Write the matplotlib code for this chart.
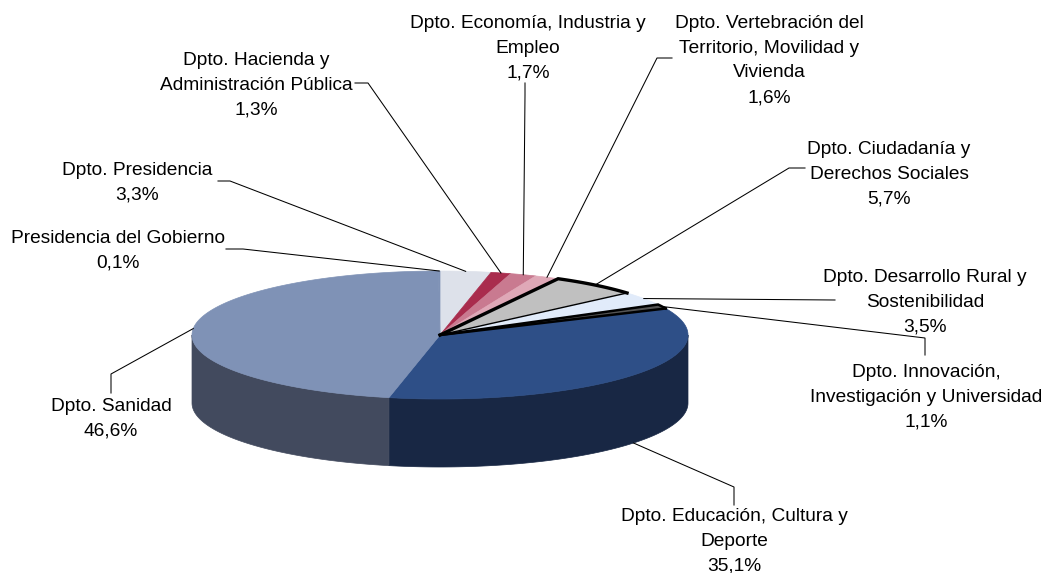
import numpy as np
import matplotlib
matplotlib.use('Agg')
import matplotlib.pyplot as plt

plt.rcParams['font.family'] = ['Liberation Sans', 'DejaVu Sans']

# slices clockwise from 12 o'clock
labels = ['Dpto. Presidencia', 'Dpto. Hacienda y\nAdministración Pública',
          'Dpto. Economía, Industria y\nEmpleo',
          'Dpto. Vertebración del\nTerritorio, Movilidad y\nVivienda',
          'Dpto. Ciudadanía y\nDerechos Sociales', 'Dpto. Desarrollo Rural y\nSostenibilidad',
          'Dpto. Innovación,\nInvestigación y Universidad', 'Dpto. Educación, Cultura y\nDeporte',
          'Dpto. Sanidad', 'Presidencia del Gobierno']
values = [3.3, 1.3, 1.7, 1.6, 5.7, 3.5, 1.1, 35.1, 46.6, 0.1]
value_text = ['3,3%', '1,3%', '1,7%', '1,6%', '5,7%', '3,5%', '1,1%', '35,1%', '46,6%', '0,1%']
top_colors = ['#DDE1EA', '#A92C4D', '#C97A90', '#DFA8B7', '#C0C0C0', '#E1EBFA', '#555555',
              '#2E4F87', '#7F92B6', '#7F92B6']
side_colors = ['#9A9DA4', '#761F36', '#8C5564', '#9C7580', '#868686', '#9DA4AF', '#3B3B3B',
               '#182744', '#424A5E', '#424A5E']
outer_widths = [0, 0, 0, 0, 2.4, 0, 1.8, 0, 0, 0]
closing_widths = [0, 0, 0, 0, 1.0, 0, 1.8, 0, 0, 0]

# label block centre x, first baseline y (px), elbow end and start of the leader
label_x = [137, 256, 528, 769, 889, 925, 926, 734, 111, 118]
label_y = [175, 65, 28, 28, 154, 282, 377, 521, 411, 243]
leader_start = [(218, 181), (355, 83), (525, 83), (672, 58), (805, 168),
                (835, 300), (925, 355), (734, 505), (111, 393), (226, 249)]
leader_elbow = [(230, 181), (368, 83), (525, 95), (657, 58), (789, 168),
                (835, 300), (925, 338), (734, 487), (111, 374), (243, 249)]

cx, cy = 440, 335
rx, ry = 248, 64
depth = 68
line_height = 24.7


def ellipse(a, b):
    t = np.radians(np.linspace(a, b, max(int(abs(b - a)) * 2, 2) + 1))
    return cx + rx * np.sin(t), cy - ry * np.cos(t)


fig = plt.figure(figsize=(10.44, 5.73), dpi=100)
ax = fig.add_axes([0, 0, 1, 1])
ax.set_xlim(0, 1044)
ax.set_ylim(573, 0)
ax.axis('off')

angles = np.concatenate([[0], np.cumsum(values)]) / sum(values) * 360

# side walls, only the front half of the ellipse shows
for i in range(len(values)):
    a, b = max(angles[i], 90), min(angles[i + 1], 270)
    if b <= a:
        continue
    x, y = ellipse(a, b)
    ax.fill(np.r_[x, x[::-1]], np.r_[y, y[::-1] + depth], color=side_colors[i], lw=0.5, zorder=1)

# top faces
for i in range(len(values)):
    x, y = ellipse(angles[i], angles[i + 1])
    ax.fill(np.r_[cx, x], np.r_[cy, y], color=top_colors[i], lw=0.5, zorder=2)

# black outlines: heavy on the leading edge and rim, lighter on the way back
for i in range(len(values)):
    if outer_widths[i] == 0:
        continue
    x, y = ellipse(angles[i], angles[i + 1])
    ax.plot(np.r_[cx, x], np.r_[cy, y], color='black', lw=outer_widths[i],
            solid_joinstyle='miter', zorder=3)
    ax.plot([x[-1], cx], [y[-1], cy], color='black', lw=closing_widths[i], zorder=3)

# leaders go to the middle of each slice's outer edge
for i in range(len(values)):
    mid = np.radians((angles[i] + angles[i + 1]) / 2)
    end_x = cx + rx * np.sin(mid)
    end_y = cy - ry * np.cos(mid)
    if 90 < np.degrees(mid) < 270 and labels[i] != 'Dpto. Sanidad':
        end_y += depth
    xs = [leader_start[i][0], leader_elbow[i][0], end_x]
    ys = [leader_start[i][1], leader_elbow[i][1], end_y]
    ax.plot(xs, ys, color='black', lw=0.75, zorder=4, solid_joinstyle='miter')

    lines = labels[i].split('\n') + [value_text[i]]
    for j, line in enumerate(lines):
        ax.text(label_x[i], label_y[i] + j * line_height, line, ha='center', va='baseline',
                fontsize=13.75, color='black', zorder=5)

fig.savefig('out.png', dpi=100, facecolor='white')
